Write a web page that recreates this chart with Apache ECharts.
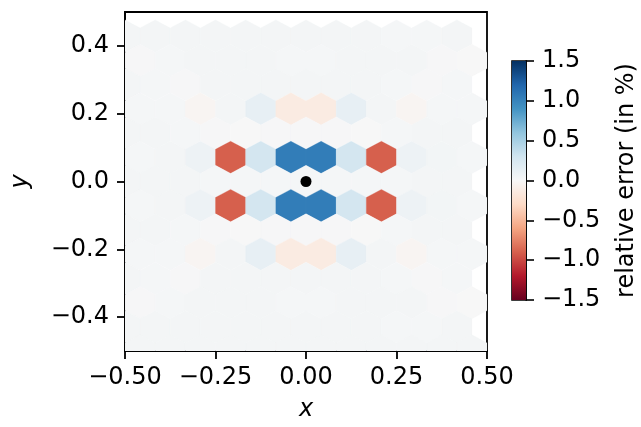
<!DOCTYPE html>
<html>
<head>
<meta charset="utf-8">
<script src="https://cdn.jsdelivr.net/npm/echarts@6/dist/echarts.min.js"></script>
<style>
  html, body { margin: 0; padding: 0; background: #fff; }
  #main { width: 641px; height: 427px; }
</style>
</head>
<body>
<div id="main"></div>
<script>
// hex centres, two staggered column sets
const colsA = [-0.5, -0.4167, -0.3333, -0.25, -0.1667, -0.0833, 0, 0.0833, 0.1667, 0.25, 0.3333, 0.4167];
const colsB = [-0.4583, -0.375, -0.2917, -0.2083, -0.125, -0.0417, 0.0417, 0.125, 0.2083, 0.2917, 0.375, 0.4583];

// row y positions and which column set each row uses
const rowY    = [0.429, 0.357, 0.286, 0.214, 0.143, 0.071, 0, -0.071, -0.143, -0.214, -0.286, -0.357, -0.429, -0.5];
const rowCols = ['A', 'B', 'A', 'B', 'A', 'B', 'A', 'B', 'A', 'B', 'A', 'B', 'A', 'B'];

// relative error (in %) per hex, one list per row
const err_p429 = [0.03, 0.03, 0.03, 0.03, 0.03, 0.03, 0.03, 0.03, 0.03, 0.02, 0.02, 0.03];
const err_p357 = [0.01, 0.02, 0.03, 0.03, 0.03, 0.02, 0.02, 0.03, 0.03, 0.03, 0.01, 0.0];
const err_p286 = [0.03, 0.02, 0.01, 0.03, 0.03, 0.03, 0.03, 0.03, 0.03, 0.02, 0.01, 0.02];
const err_p214 = [0.02, 0.02, -0.03, 0.03, 0.13, -0.13, -0.13, 0.13, 0.03, -0.03, 0.02, 0.02];
const err_p143 = [0.03, 0.03, 0.02, 0.01, 0.0, 0.01, 0.01, 0.01, 0.0, 0.02, 0.03, 0.03];
const err_p071 = [0.02, 0.03, 0.08, -0.9, 0.28, 1.05, 1.05, 0.28, -0.9, 0.08, 0.04, 0.02];
const err_000  = [0.03, 0.03, 0.03, 0.02, 0.02, 0.02, 0.02, 0.02, 0.02, 0.02, 0.03, 0.03];
const err_m071 = [0.02, 0.03, 0.08, -0.9, 0.28, 1.05, 1.05, 0.28, -0.9, 0.08, 0.04, 0.02];
const err_m143 = [0.03, 0.03, 0.02, 0.01, 0.0, 0.01, 0.01, 0.01, 0.0, 0.02, 0.03, 0.03];
const err_m214 = [0.02, 0.02, -0.03, 0.03, 0.13, -0.13, -0.13, 0.13, 0.03, -0.03, 0.02, 0.02];
const err_m286 = [0.03, 0.02, 0.01, 0.03, 0.03, 0.03, 0.03, 0.03, 0.03, 0.02, 0.01, 0.02];
const err_m357 = [0.01, 0.02, 0.03, 0.03, 0.03, 0.02, 0.02, 0.03, 0.03, 0.03, 0.01, 0.0];
const err_m429 = [0.03, 0.03, 0.03, 0.03, 0.03, 0.03, 0.03, 0.03, 0.03, 0.02, 0.02, 0.03];
const err_m500 = [0.03, 0.03, 0.03, 0.03, 0.03, 0.03, 0.03, 0.03, 0.03, 0.03, 0.03, 0.03];
const rowErr = [err_p429, err_p357, err_p286, err_p214, err_p143, err_p071, err_000,
                err_m071, err_m143, err_m214, err_m286, err_m357, err_m429, err_m500];

const yTicks = [-0.4, -0.2, 0, 0.2, 0.4];

// RdBu, from -1.5 up to 1.5
const rdbu = ['#67001f', '#b2182b', '#d6604d', '#f4a582', '#fddbc7', '#f7f7f7',
              '#d1e5f0', '#92c5de', '#4393c3', '#2166ac', '#053061'];

const hexW = 1 / 12;   // hex width in x units
const hexSy = 1 / 7;   // lattice height in y units

const hexData = [];
rowY.forEach((y, r) => {
  const cols = rowCols[r] === 'A' ? colsA : colsB;
  cols.forEach((x, c) => hexData.push([x, y, rowErr[r][c]]));
});

const fmt = (v, d) => {
  const s = Math.abs(v).toFixed(d);
  return v < -1e-9 ? '\u2212' + s : s;
};

const font = 'DejaVu Sans';
const lab = { color: '#000', fontSize: 24, fontFamily: font };
const blackLine = { color: '#000', width: 1.8 };

const chart = echarts.init(document.getElementById('main'));

chart.setOption({
  animation: false,
  backgroundColor: '#fff',
  grid: [
    { left: 125, top: 12, width: 362, height: 339, outerBoundsMode: 'none', containLabel: false,
      show: true, borderColor: '#000', borderWidth: 1.8, backgroundColor: 'transparent' },
    { left: 512, top: 61, width: 14, height: 239, outerBoundsMode: 'none', containLabel: false,
      show: true, borderColor: '#000', borderWidth: 1.6 }
  ],
  xAxis: [
    {
      gridIndex: 0, type: 'value', min: -0.5, max: 0.5, interval: 0.25,
      name: 'x', nameLocation: 'middle', nameGap: 47,
      nameTextStyle: Object.assign({}, lab, { fontStyle: 'italic' }),
      axisLine: { onZero: false, lineStyle: blackLine },
      axisTick: { show: true, length: 8, lineStyle: blackLine },
      axisLabel: Object.assign({}, lab, { margin: 15, formatter: v => fmt(v, 2) }),
      splitLine: { show: false }
    },
    {
      gridIndex: 1, type: 'value', min: 0, max: 1, show: false
    }
  ],
  yAxis: [
    {
      gridIndex: 0, type: 'value', min: -0.5, max: 0.5,
      name: 'y', nameLocation: 'middle', nameGap: 92, nameRotate: 90,
      nameTextStyle: Object.assign({}, lab, { fontStyle: 'italic' }),
      axisLine: { onZero: false, lineStyle: blackLine },
      axisTick: { show: true, length: 8, customValues: yTicks, lineStyle: blackLine },
      axisLabel: Object.assign({}, lab, { margin: 16, customValues: yTicks, formatter: v => fmt(v, 1) }),
      splitLine: { show: false }
    },
    {
      gridIndex: 1, type: 'value', min: -1.5, max: 1.5, interval: 0.5, position: 'right',
      name: 'relative error (in %)', nameLocation: 'middle', nameGap: 89, nameRotate: 90,
      nameTextStyle: lab,
      axisLine: { show: true, onZero: false, lineStyle: { color: '#000', width: 1.6 } },
      axisTick: { show: true, inside: false, length: 8, lineStyle: { color: '#000', width: 1.6 } },
      axisLabel: Object.assign({}, lab, { margin: 16, formatter: v => fmt(v, 1) }),
      splitLine: { show: false }
    }
  ],
  visualMap: {
    show: false, type: 'continuous', min: -1.5, max: 1.5,
    dimension: 2, seriesIndex: 0, inRange: { color: rdbu }
  },
  series: [
    {
      type: 'custom',
      xAxisIndex: 0, yAxisIndex: 0,
      clip: true,
      encode: { x: 0, y: 1 },
      data: hexData,
      renderItem: (params, api) => {
        const x = api.value(0), y = api.value(1);
        const hw = hexW / 2, t = hexSy / 3, s = hexSy / 6;
        const pts = [
          [x, y + t], [x + hw, y + s], [x + hw, y - s],
          [x, y - t], [x - hw, y - s], [x - hw, y + s]
        ].map(p => api.coord(p));
        const col = api.visual('color');
        return {
          type: 'polygon',
          shape: { points: pts },
          style: { fill: col, stroke: col, lineWidth: 0.3 }
        };
      }
    },
    {
      type: 'scatter',
      xAxisIndex: 0, yAxisIndex: 0,
      data: [[0, 0]],
      symbolSize: 11,
      itemStyle: { color: '#000', opacity: 1 },
      z: 5
    },
    {
      // colour bar
      type: 'custom',
      xAxisIndex: 1, yAxisIndex: 1,
      data: [[0]],
      renderItem: (params, api) => {
        const p0 = api.coord([0, 1.5]);
        const p1 = api.coord([1, -1.5]);
        const stops = rdbu.slice().reverse().map((c, i) => ({ offset: i / (rdbu.length - 1), color: c }));
        return {
          type: 'rect',
          shape: { x: p0[0], y: p0[1], width: p1[0] - p0[0], height: p1[1] - p0[1] },
          style: { fill: new echarts.graphic.LinearGradient(0, 0, 0, 1, stops) }
        };
      }
    }
  ]
});
</script>
</body>
</html>
